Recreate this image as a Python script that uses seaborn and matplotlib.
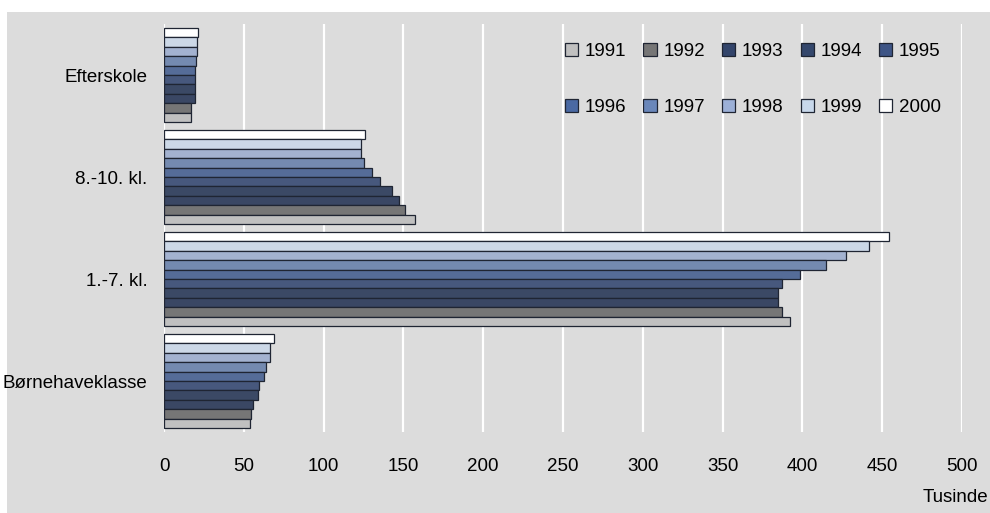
import matplotlib
matplotlib.use("Agg")
import matplotlib.pyplot as plt
from matplotlib.patches import Patch, Rectangle
import seaborn as sns
import pandas as pd

# ---- data ----
categories = ["Efterskole", "8.-10. kl.", "1.-7. kl.", "Børnehaveklasse"]
years = ["1991", "1992", "1993", "1994", "1995", "1996", "1997", "1998", "1999", "2000"]
efterskole = [17.0, 17.2, 19.2, 19.3, 19.5, 19.7, 19.8, 20.4, 20.6, 21.0]
kl8_10 = [157.0, 151.0, 147.0, 143.0, 135.5, 130.5, 125.5, 123.5, 123.5, 126.0]
kl1_7 = [392.5, 387.5, 385.0, 385.0, 387.5, 398.5, 414.5, 427.5, 441.5, 454.5]
bornehave = [54.0, 54.8, 56.0, 59.0, 59.8, 62.8, 63.6, 66.5, 66.5, 69.0]
xticks = [0, 50, 100, 150, 200, 250, 300, 350, 400, 450, 500]
unit_label = "Tusinde"

colors = ["#c0c0c0", "#767676", "#33456b", "#34476c", "#3e5586",
          "#4a69a3", "#6a87ba", "#9cb0d7", "#c8d8eb", "#ffffff"]

series = {"Efterskole": efterskole, "8.-10. kl.": kl8_10,
          "1.-7. kl.": kl1_7, "Børnehaveklasse": bornehave}
rows = []
for cat in categories:
    for y, v in zip(years, series[cat]):
        rows.append({"cat": cat, "year": y, "value": v})
df = pd.DataFrame(rows)
palette = dict(zip(years, colors))

plt.rcParams["font.family"] = ["Liberation Sans", "DejaVu Sans"]
GRAY = "#dcdcdc"
FS = 13.5

fig = plt.figure(figsize=(9.9, 5.13), dpi=100, facecolor="white")
fig.patches.append(Rectangle((7 / 990, 0), 1 - 7 / 990, 1 - 12 / 513,
                             transform=fig.transFigure, facecolor=GRAY,
                             edgecolor="none", zorder=-10))
ax = fig.add_axes([164 / 990, 1 - 432 / 513, (962 - 164) / 990, (432 - 24) / 513])
ax.set_facecolor(GRAY)

sns.barplot(data=df, y="cat", x="value", hue="year", order=categories,
            hue_order=years[::-1], palette=palette, orient="h", width=0.92,
            dodge=True, edgecolor="#1f2533", linewidth=0.9, legend=False,
            errorbar=None, ax=ax, zorder=3)

ax.set_xlim(0, 500)
ax.set_ylim(3.5, -0.5)
ax.set_xticks(xticks)
ax.set_xticklabels([str(t) for t in xticks])
ax.tick_params(axis="x", length=0, pad=19, labelsize=FS)
ax.tick_params(axis="y", length=0, pad=12, labelsize=FS)
ax.set_xlabel("")
ax.set_ylabel("")
for s in ax.spines.values():
    s.set_visible(False)
ax.grid(axis="x", color="white", linewidth=1.6, zorder=0)
ax.grid(axis="y", visible=False)
ax.set_axisbelow(True)

fig.text(988 / 990, 1 - 497 / 513, unit_label, ha="right", va="center", fontsize=FS)

# legend, row-major order in 2 rows x 5 columns
handles = [Patch(facecolor=palette[y], edgecolor="#1f2533", linewidth=0.9, label=y) for y in years]
order = []
for c in range(5):
    order += [c, c + 5]
leg = fig.legend([handles[i] for i in order], [years[i] for i in order],
                 ncol=5, loc="center", bbox_to_anchor=(753 / 990, 1 - 79.5 / 513),
                 frameon=False, fontsize=FS, handlelength=0.7, handleheight=0.7,
                 handletextpad=0.37, columnspacing=0.9, labelspacing=2.05,
                 borderpad=0)

fig.savefig("out.png", dpi=100, facecolor="white")
